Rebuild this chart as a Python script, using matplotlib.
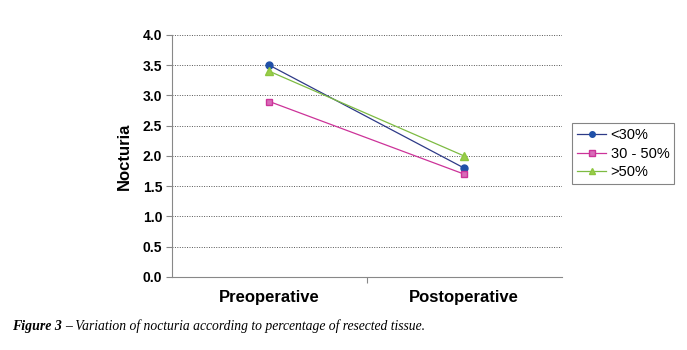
import matplotlib.pyplot as plt
import numpy as np

plt.rcParams['font.family'] = ['Liberation Sans', 'DejaVu Sans']

categories = ["Preoperative", "Postoperative"]
series_names = ["<30%", "30 - 50%", ">50%"]
lt30 = [3.5, 1.8]
mid30_50 = [2.9, 1.7]
gt50 = [3.4, 2.0]

fig = plt.figure(figsize=(6.87, 3.5), dpi=100)
ax = fig.add_axes([0.2504, 0.2086, 0.567, 0.6914])

x = np.arange(len(categories))
ax.plot(x, lt30, color="#2E3A87", lw=0.9, marker="o", ms=5,
        mfc="#2050A8", mec="#2050A8", label=series_names[0])
ax.plot(x, mid30_50, color="#CC3399", lw=0.9, marker="s", ms=5,
        mfc="#D86BB8", mec="#CC3399", label=series_names[1])
ax.plot(x, gt50, color="#7DBB42", lw=0.9, marker="^", ms=6,
        mfc="#9ACD4A", mec="#8DC63F", label=series_names[2])

ax.set_xlim(-0.5, 1.5)
ax.set_ylim(0, 4.0)
ax.set_yticks(np.arange(0, 4.01, 0.5))
ax.set_yticklabels([f"{v:.1f}" for v in np.arange(0, 4.01, 0.5)],
                   fontweight="bold", fontsize=10)
ax.yaxis.grid(True, linestyle=(0, (1, 1.5)), color="#555555", lw=0.7)
ax.set_axisbelow(True)

ax.set_xticks([0.5])
ax.set_xticklabels([""])
ax.tick_params(axis="x", length=4, color="#888888")
ax.tick_params(axis="y", length=4, color="#888888", pad=3)
for i, c in enumerate(categories):
    ax.text(i, -0.22, c, ha="center", va="top", fontsize=12, fontweight="bold")

for s in ["top", "right"]:
    ax.spines[s].set_visible(False)
ax.spines["left"].set_color("#888888")
ax.spines["bottom"].set_color("#888888")

ax.set_ylabel("Nocturia", fontsize=12, fontweight="bold", labelpad=8)

leg = ax.legend(loc="upper left", bbox_to_anchor=(1.008, 0.665), frameon=True,
                fancybox=False, edgecolor="#666666", fontsize=10.5,
                handlelength=2.0, borderpad=0.35, labelspacing=0.3,
                handletextpad=0.3, markerscale=0.8)
leg.get_frame().set_linewidth(0.8)

fig.text(0.017, 0.057, "Figure 3", fontfamily="Liberation Serif", fontstyle="italic",
         fontweight="bold", fontsize=10)
fig.text(0.095, 0.057, "\u2013 Variation of nocturia according to percentage of resected tissue.",
         fontfamily="Liberation Serif", fontstyle="italic", fontsize=9.8)

fig.savefig("out.png", dpi=100)
